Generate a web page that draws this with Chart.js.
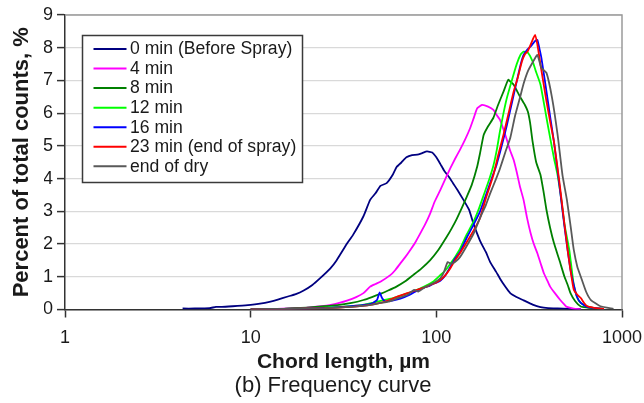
<!DOCTYPE html>
<html>
<head>
<meta charset="utf-8">
<script src="https://cdn.jsdelivr.net/npm/chart.js@4.4.1/dist/chart.umd.min.js"></script>
<style>
  html, body { margin: 0; padding: 0; background: #fff; }
  #wrap { width: 644px; height: 403px; }
</style>
</head>
<body>
<div id="wrap"><canvas id="chart" width="644" height="403"></canvas></div>
<script>
// Chord length (µm) and percent of total counts, one pair of arrays per curve
const seriesNames = ['0 min (Before Spray)', '4 min', '8 min', '12 min', '16 min', '23 min (end of spray)', 'end of dry'];
const seriesColors = ['#000080', '#ff00ff', '#008000', '#00ff00', '#0000ff', '#ff0000', '#595959'];

const len0 = [4.3,5,6,6.5,7, 8,9,10,11,12.8, 14,15.7,17.5,19.3,21.5, 23.6,26.8,29,32.9,35.6, 40.5,44,47,50,54, 58,61,65,69,74, 79,84,89,95,100, 105,110,117,123,130, 140,150,159,172,185, 195,210,220,235,250, 270,295,330,364,400, 450,520,600];
const pct0 = [0.03,0.03,0.04,0.08,0.08, 0.1,0.12,0.14,0.17,0.24, 0.3,0.39,0.47,0.58,0.75, 0.95,1.25,1.5,2.0,2.28, 2.85,3.35,3.55,3.78,3.86, 4.1,4.35,4.5,4.65,4.72, 4.73,4.78,4.83,4.8,4.65, 4.45,4.25,4.05,3.86,3.65, 3.35,3.05,2.6,2.1,1.75, 1.45,1.15,0.95,0.7,0.5, 0.38,0.28,0.15,0.07,0.04, 0.03,0.02,0.02];

const len4 = [12,16,20,24,27, 30,33,37,40.5,44, 47,50,56.5,60,64, 68,72.4,77,82,87, 92.7,98,105,112,119, 126,134,143,152,159, 166,176,190,203,211, 220,230,240,250,261, 271,282,295,308,322, 335,350,365,380,395, 410,435,465,490,505, 550,600];
const pct4 = [0.01,0.03,0.06,0.1,0.14, 0.2,0.27,0.38,0.5,0.7, 0.78,0.85,1.05,1.2,1.41, 1.6,1.82,2.05,2.33,2.6, 2.94,3.3,3.65,4.0,4.32, 4.6,4.88,5.2,5.54,5.85, 6.15,6.25,6.2,6.1,5.95, 5.8,5.5,5.18,4.85,4.57, 4.2,3.76,3.35,2.8,2.33, 2.0,1.72,1.4,1.1,0.9, 0.7,0.5,0.29,0.15,0.08, 0.03,0.01];

const len8 = [15,20,25,30,35, 40.5,45,50,55,61, 68,75,83,92.7,102, 114,121,128,137,146, 155,166,172,180,190, 203,215,230,244,252, 261,282,300,311,320, 330,345,364,378,392, 410,430,460,490,510, 528,560,600,650,700];
const pct8 = [0.02,0.06,0.1,0.14,0.2, 0.29,0.38,0.48,0.58,0.7, 0.86,1.05,1.25,1.51,1.8, 2.23,2.48,2.74,3.1,3.45, 3.8,4.37,4.78,5.34,5.6, 5.86,6.25,6.66,7.02,6.95, 6.87,6.51,6.25,6.05,5.7, 5.13,4.5,4.11,3.6,3.04, 2.5,2.03,1.51,1.0,0.75, 0.5,0.25,0.09,0.06,0.04];

const len12 = [10,15,20,25,30, 34.5,40,45,52,58, 64,72,78.6,87,96, 105,112,119,126,134, 146,159,170,180,192, 203,212,220,230,240, 255,271,285,295,311, 330,345,364,392,410, 430,450,470,490,520, 550,575,600,650,700, 800];
const pct12 = [0.01,0.02,0.04,0.06,0.08, 0.1,0.14,0.2,0.29,0.34, 0.42,0.52,0.6,0.72,0.85, 1.05,1.2,1.4,1.6,1.85, 2.3,2.7,3.1,3.5,3.95, 4.4,4.9,5.44,6.0,6.47, 7.0,7.5,7.8,7.88,7.85, 7.58,7.25,6.87,5.86,5.25, 4.63,4.1,3.4,2.6,1.82, 0.75,0.35,0.2,0.1,0.05, 0.02];

const len16 = [10,15,20,25,30, 35,40,45,48,49.5, 51,53,58,64,72, 80,87,92,96,100, 105,112,119,126,134, 146,159,172,185,200, 211,225,240,255,271, 285,295,310,322,340, 350,360,368,392,410, 430,460,490,510,528, 550,572,600,650,700, 800];
const pct16 = [0.01,0.02,0.03,0.05,0.07, 0.1,0.13,0.18,0.3,0.52, 0.35,0.25,0.27,0.33,0.45, 0.6,0.68,0.72,0.78,0.82, 0.88,1.05,1.3,1.55,1.75, 2.2,2.6,3.0,3.5,4.05, 4.42,5.0,5.64,6.3,6.97, 7.5,7.78,7.95,8.04,8.2, 8.24,7.95,7.69,6.66,5.9, 5.13,3.8,2.53,1.8,1.21, 0.75,0.39,0.2,0.08,0.05, 0.02];

const len23 = [10,15,20,25,30, 35,40,45,50,55, 61.3,70,78.6,87,92.7, 100,105,112,119,126, 134,143,152,162,172, 185,203,215,230,245, 261,275,289,300,311, 325,340,350,364,392, 410,430,460,490,510, 528,550,575,600,625, 650,700,800];
const pct23 = [0.01,0.02,0.03,0.04,0.06, 0.08,0.11,0.15,0.2,0.27, 0.39,0.5,0.6,0.68,0.75, 0.83,0.9,1.05,1.26,1.5, 1.72,1.98,2.23,2.5,2.8, 3.4,4.11,4.7,5.34,6.0, 6.66,7.1,7.58,7.8,7.9, 8.15,8.39,8.1,7.48,6.36, 5.75,5.13,3.9,2.6,1.8, 1.2,0.6,0.45,0.35,0.2, 0.1,0.06,0.02];

const lenDry = [10,15,20,25,30, 35,40,45,50,55, 61,70,76,80,87, 96,105,110,115,120, 126,134,146,159,172, 185,195,210,220,235, 250,265,282,295,311, 330,350,368,392,420, 450,478,505,530,550, 575,600,640,680,765, 900];
const pctDry = [0.01,0.02,0.03,0.04,0.06, 0.08,0.11,0.15,0.2,0.24, 0.33,0.45,0.6,0.55,0.68, 0.8,0.95,1.15,1.45,1.4, 1.45,1.6,1.95,2.33,2.8, 3.2,3.55,4.0,4.3,4.8, 5.24,5.9,6.47,6.9,7.28, 7.55,7.78,7.38,7.23,6.47, 5.34,4.11,3.35,2.5,1.82, 1.3,1.0,0.55,0.29,0.1, 0.02];

const xTicks = [1, 10, 100, 1000];
const yMax = 9;

const lengths = [len0, len4, len8, len12, len16, len23, lenDry];
const percents = [pct0, pct4, pct8, pct12, pct16, pct23, pctDry];

const FONT = '"Liberation Sans", Arial, sans-serif';

const datasets = seriesNames.map((name, i) => ({
  label: name,
  data: lengths[i].map((x, j) => ({ x: x, y: percents[i][j] })),
  borderColor: seriesColors[i],
  backgroundColor: seriesColors[i],
  borderWidth: 1.8,
  pointRadius: 0,
  tension: 0.15,
  fill: false,
  order: seriesNames.length - i   // later curves on top, like the original
}));

// grey frame on top/right and the boxed legend inside the plot
const frameAndLegend = {
  id: 'frameAndLegend',
  afterDraw(chart) {
    const { ctx, chartArea: a } = chart;
    ctx.save();
    ctx.strokeStyle = '#9a9a9a';
    ctx.lineWidth = 1.5;
    ctx.beginPath();
    ctx.moveTo(a.left, a.top);
    ctx.lineTo(a.right, a.top);
    ctx.lineTo(a.right, a.bottom);
    ctx.stroke();

    const bx = a.left + 17.5, by = a.top + 20.5, bw = 220, bh = 147;
    ctx.fillStyle = '#fff';
    ctx.fillRect(bx, by, bw, bh);
    ctx.strokeStyle = '#3a3a3a';
    ctx.lineWidth = 1.5;
    ctx.strokeRect(bx, by, bw, bh);

    ctx.font = '17.6px ' + FONT;
    ctx.textBaseline = 'middle';
    ctx.textAlign = 'left';
    chart.data.datasets.forEach((ds, i) => {
      const y = by + 13.5 + i * 19.55;
      ctx.strokeStyle = ds.borderColor;
      ctx.lineWidth = 2;
      ctx.beginPath();
      ctx.moveTo(bx + 11, y);
      ctx.lineTo(bx + 44, y);
      ctx.stroke();
      ctx.fillStyle = '#1a1a1a';
      ctx.fillText(ds.label, bx + 47.5, y + 0.5);
    });
    ctx.restore();
  }
};

new Chart(document.getElementById('chart'), {
  type: 'line',
  data: { datasets: datasets },
  plugins: [frameAndLegend],
  options: {
    responsive: false,
    animation: false,
    // left padding keeps the caption centred like the original; y axis box is narrowed to match
    layout: { padding: { top: 15, right: 22, left: 44, bottom: 0 } },
    plugins: {
      legend: { display: false },
      tooltip: { enabled: false },
      title: {
        display: true,
        position: 'bottom',
        text: '(b) Frequency curve',
        color: '#1a1a1a',
        font: { family: FONT, size: 22, weight: 'normal', lineHeight: 1 },
        padding: { top: 0, bottom: 6 }
      }
    },
    scales: {
      x: {
        type: 'logarithmic',
        min: 1,
        max: 1000,
        afterBuildTicks: s => { s.ticks = xTicks.map(v => ({ value: v, major: true })); },
        afterFit: s => {
          s.height = 65.5;
          // the layout padding already leaves room for "1000"
          s.paddingLeft = 0;
          s.paddingRight = 0;
        },
        ticks: {
          autoSkip: false,
          maxRotation: 0,
          padding: 10,
          color: '#1a1a1a',
          font: { family: FONT, size: 18 },
          callback: v => String(v)
        },
        grid: { drawOnChartArea: false, tickLength: 8, tickColor: '#333', tickWidth: 1.5 },
        border: { color: '#333', width: 1.5 },
        title: {
          display: true,
          text: 'Chord length, µm',
          color: '#1a1a1a',
          font: { family: FONT, size: 21, weight: 'bold', lineHeight: 1 },
          padding: { top: 0, bottom: 2 }
        }
      },
      y: {
        min: 0,
        max: yMax,
        afterFit: s => { s.width = 21; },
        ticks: {
          stepSize: 1,
          padding: 4,
          color: '#1a1a1a',
          font: { family: FONT, size: 18 }
        },
        grid: { color: '#d9d9d9', lineWidth: 1.2, tickLength: 8, tickColor: '#333', tickWidth: 1.5 },
        border: { color: '#333', width: 1.5 },
        title: {
          display: true,
          text: 'Percent of total counts, %',
          color: '#1a1a1a',
          font: { family: FONT, size: 22, weight: 'bold', lineHeight: 1 },
          padding: { top: -33, bottom: 0 }
        }
      }
    }
  }
});
</script>
</body>
</html>
